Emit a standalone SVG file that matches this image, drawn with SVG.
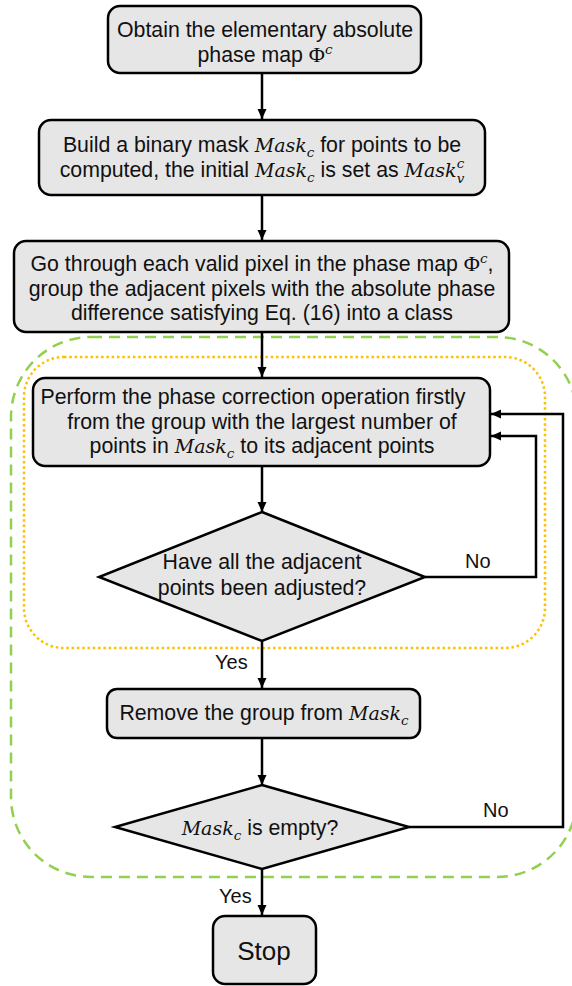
<svg xmlns="http://www.w3.org/2000/svg" width="572" height="986" viewBox="0 0 572 986">
  <style>
    .box { fill: #E6E6E6; stroke: #000; stroke-width: 2.5; }
    .t { font-family: "Liberation Sans", Arial, sans-serif; font-size: 21.3px; fill: #111; text-anchor: middle; }
    .lbl { font-family: "Liberation Sans", Arial, sans-serif; font-size: 20px; fill: #111; }
    .m { font-family: "DejaVu Serif", "Liberation Serif", serif; font-style: italic; font-size: 19px; }
    .s { font-family: "DejaVu Serif", "Liberation Serif", serif; font-style: italic; font-size: 13.5px; }
    .phi { font-family: "Liberation Serif", "DejaVu Serif", serif; font-size: 22px; }
    .wire { fill: none; stroke: #000; stroke-width: 2.5; }
    .arrow { marker-end: url(#head); }
  </style>
  <defs>
    <marker id="head" markerUnits="userSpaceOnUse" markerWidth="10" markerHeight="10" refX="10" refY="5" orient="auto">
      <path d="M0,0.5 L10,5 L0,9.5 z" fill="#000"/>
    </marker>
  </defs>

  <!-- grouping frames -->
  <g id="frames">
    <rect x="11" y="337" width="566" height="540" rx="80" ry="80" fill="none" stroke="#92D050" stroke-width="2.5" stroke-dasharray="11 7"/>
    <rect x="24" y="357" width="521" height="291" rx="40" ry="40" fill="none" stroke="#FFC000" stroke-width="2.5" stroke-dasharray="2.5 2.8"/>
  </g>

  <!-- connectors -->
  <g id="connectors">
    <path class="wire arrow" d="M262 73 V119"/>
    <path class="wire arrow" d="M262 195 V240"/>
    <path class="wire arrow" d="M262 332 V377"/>
    <path class="wire arrow" d="M262 466 V512"/>
    <path class="wire arrow" d="M262 641 V688"/>
    <path class="wire arrow" d="M262 738 V785"/>
    <path class="wire arrow" d="M262 869 V915"/>
    <path class="wire arrow" d="M425 577 H536 V436 H491"/>
    <path class="wire arrow" d="M409 827 H563 V414 H491"/>
    <text class="lbl" x="465" y="568">No</text>
    <text class="lbl" x="483" y="817">No</text>
    <text class="lbl" x="215" y="669">Yes</text>
    <text class="lbl" x="219" y="903">Yes</text>
  </g>

  <g id="obtain-phase">
    <rect class="box" x="108" y="6" width="313" height="67" rx="12"/>
    <text class="t" x="265" y="37">Obtain the elementary absolute</text>
    <text class="t" x="265" y="62">phase map <tspan class="phi">Φ</tspan><tspan class="s" dy="-8">c</tspan></text>
  </g>

  <g id="build-mask">
    <rect class="box" x="39" y="120" width="446" height="75" rx="12"/>
    <text class="t" x="262" y="152">Build a binary mask <tspan class="m">Mask</tspan><tspan class="s" dy="5">c</tspan><tspan dy="-5"> for points to be</tspan></text>
    <text class="t" x="262" y="177">computed, the initial <tspan class="m">Mask</tspan><tspan class="s" dy="5">c</tspan><tspan dy="-5"> is set as </tspan><tspan class="m">Mask</tspan><tspan class="s" dy="-9">c</tspan><tspan class="s" dx="-7.5" dy="15">v</tspan></text>
  </g>

  <g id="group-pixels">
    <rect class="box" x="14" y="241" width="495" height="91" rx="12"/>
    <text class="t" x="262" y="271">Go through each valid pixel in the phase map <tspan class="phi">Φ</tspan><tspan class="s" dy="-8">c</tspan><tspan dy="8">,</tspan></text>
    <text class="t" x="262" y="296">group the adjacent pixels with the absolute phase</text>
    <text class="t" x="262" y="320">difference satisfying Eq. (16) into a class</text>
  </g>

  <g id="phase-correction">
    <rect class="box" x="33" y="378" width="457" height="88" rx="12"/>
    <text class="t" x="253" y="404">Perform the phase correction operation firstly</text>
    <text class="t" x="262" y="429">from the group with the largest number of</text>
    <text class="t" x="262" y="453">points in <tspan class="m">Mask</tspan><tspan class="s" dy="5">c</tspan><tspan dy="-5"> to its adjacent points</tspan></text>
  </g>

  <g id="all-adjusted">
    <polygon class="box" points="262,512 425,577 262,641 99,577"/>
    <text class="t" x="262" y="569">Have all the adjacent</text>
    <text class="t" x="262" y="595">points been adjusted?</text>
  </g>

  <g id="remove-group">
    <rect class="box" x="107" y="689" width="313" height="49" rx="10"/>
    <text class="t" x="264" y="720">Remove the group from <tspan class="m">Mask</tspan><tspan class="s" dy="5">c</tspan></text>
  </g>

  <g id="mask-empty">
    <polygon class="box" points="262,785 409,827 262,869 115,827"/>
    <text class="t" x="260" y="835"><tspan class="m">Mask</tspan><tspan class="s" dy="5">c</tspan><tspan dy="-5"> is empty?</tspan></text>
  </g>

  <g id="stop">
    <rect class="box" x="213" y="916" width="103" height="68" rx="12"/>
    <text class="t" x="264" y="960" style="font-size:26px">Stop</text>
  </g>
</svg>
